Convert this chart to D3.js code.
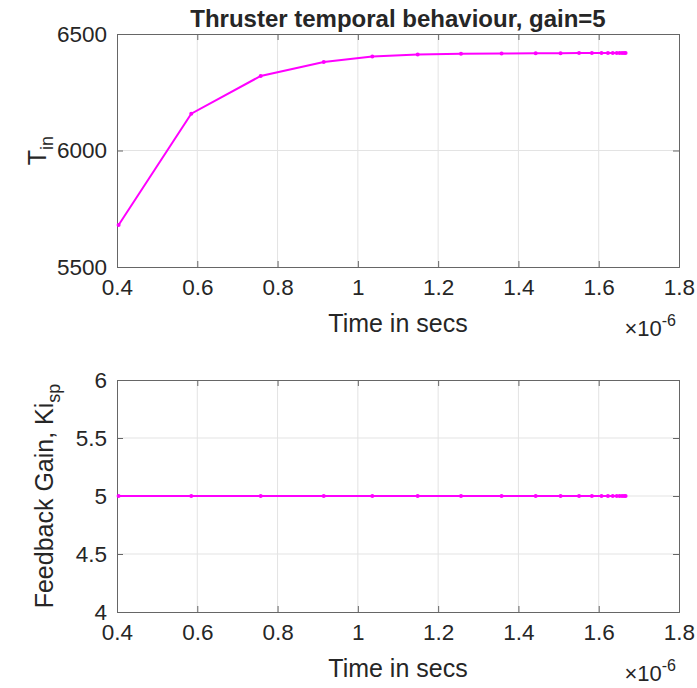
<!DOCTYPE html>
<html>
<head>
<meta charset="utf-8">
<script src="https://cdn.jsdelivr.net/npm/d3@7"></script>
<style>
  body { margin: 0; background: #fff; }
  text { font-family: "Liberation Sans", Arial, sans-serif; fill: #262626; }
</style>
</head>
<body>
<svg id="chart" width="697" height="688"></svg>
<script>
// time samples, in units of 1e-6 s
let timeVals = [0.404, 0.585, 0.758, 0.915, 1.036, 1.149, 1.257, 1.358, 1.443, 1.505,
    1.551, 1.583, 1.607, 1.623, 1.635, 1.645, 1.652, 1.658, 1.663, 1.667]
let thrustVals = [5680, 6158, 6320, 6380, 6403, 6412, 6415, 6416, 6417, 6417,
    6418, 6418, 6418, 6418, 6418, 6418, 6418, 6418, 6418, 6418]
let gainVals = [5, 5, 5, 5, 5, 5, 5, 5, 5, 5, 5, 5, 5, 5, 5, 5, 5, 5, 5, 5]

let xTicks = [0.4, 0.6, 0.8, 1, 1.2, 1.4, 1.6, 1.8]
let thrustTicks = [5500, 6000, 6500]
let gainTicks = [4, 4.5, 5, 5.5, 6]

const svg = d3.select("#chart")
const left = 117, right = 679
const axisCol = "#666"
const gridCol = "#e3e3e3"
const lineCol = "#ff00ff"

const x = d3.scaleLinear().domain([0.4, 1.8]).range([left, right])

function draw_panel(top, bottom, yDomain, yTicks, yVals, yLabelFn, title) {
    let y = d3.scaleLinear().domain(yDomain).range([bottom, top])
    let g = svg.append("g")

    // grid
    g.selectAll(".vgrid").data(xTicks.slice(1, -1)).join("line")
        .attr("x1", d => x(d)).attr("x2", d => x(d))
        .attr("y1", top).attr("y2", bottom)
        .attr("stroke", gridCol).attr("stroke-width", 1)
    g.selectAll(".hgrid").data(yTicks.slice(1, -1)).join("line")
        .attr("class", "hgrid")
        .attr("x1", left).attr("x2", right)
        .attr("y1", d => y(d)).attr("y2", d => y(d))
        .attr("stroke", gridCol).attr("stroke-width", 1)

    // axes (ticks inside)
    g.append("g").attr("transform", "translate(0," + bottom + ")")
        .call(d3.axisBottom(x).tickValues(xTicks).tickSize(-6).tickPadding(11).tickFormat(d3.format("~g")))
        .call(a => a.select(".domain").attr("stroke", axisCol))
        .call(a => a.selectAll("line").attr("stroke", axisCol))
        .call(a => a.selectAll("text").style("font-size", "22.5px").attr("fill", "#262626").attr("dy", "0.75em"))
    g.append("g").attr("transform", "translate(0," + top + ")")
        .call(d3.axisTop(x).tickValues(xTicks).tickSize(-6).tickFormat(""))
        .call(a => a.select(".domain").attr("stroke", axisCol))
        .call(a => a.selectAll("line").attr("stroke", axisCol))
    g.append("g").attr("transform", "translate(" + left + ",0)")
        .call(d3.axisLeft(y).tickValues(yTicks).tickSize(-6).tickPadding(10).tickFormat(d3.format("~g")))
        .call(a => a.select(".domain").attr("stroke", axisCol))
        .call(a => a.selectAll("line").attr("stroke", axisCol))
        .call(a => a.selectAll("text").style("font-size", "22.5px").attr("fill", "#262626"))
    g.append("g").attr("transform", "translate(" + right + ",0)")
        .call(d3.axisRight(y).tickValues(yTicks).tickSize(-6).tickFormat(""))
        .call(a => a.select(".domain").attr("stroke", axisCol))
        .call(a => a.selectAll("line").attr("stroke", axisCol))

    // data line + point markers
    let pts = timeVals.map((t, i) => [t, yVals[i]])
    g.append("path").datum(pts)
        .attr("fill", "none").attr("stroke", lineCol).attr("stroke-width", 2)
        .attr("d", d3.line().x(d => x(d[0])).y(d => y(d[1])))
    g.selectAll(".pt").data(pts).join("circle")
        .attr("cx", d => x(d[0])).attr("cy", d => y(d[1]))
        .attr("r", 2).attr("fill", lineCol)

    // x label
    g.append("text").attr("x", (left + right) / 2).attr("y", bottom + 65)
        .attr("text-anchor", "middle").style("font-size", "25px").text("Time in secs")

    // exponent
    let ex = g.append("text").attr("x", right - 3).attr("y", bottom + 69)
        .attr("text-anchor", "end").style("font-size", "22px")
    ex.append("tspan").text("\u00d710")
    ex.append("tspan").attr("dy", -10).style("font-size", "16px").text("-6")

    // y label
    yLabelFn(g, (top + bottom) / 2)

    if (title) {
        g.append("text").attr("x", (left + right) / 2).attr("y", top - 7)
            .attr("text-anchor", "middle").style("font-size", "24px").style("font-weight", "bold")
            .attr("fill", "#000").text(title)
    }
}

draw_panel(34, 267, [5500, 6500], thrustTicks, thrustVals, (g, cy) => {
    let t = g.append("text").attr("transform", "translate(46," + cy + ") rotate(-90)")
        .attr("text-anchor", "middle").style("font-size", "25px")
    t.append("tspan").text("T")
    t.append("tspan").attr("dy", 7).style("font-size", "18px").text("in")
}, "Thruster temporal behaviour, gain=5")

draw_panel(380, 612, [4, 6], gainTicks, gainVals, (g, cy) => {
    let t = g.append("text").attr("transform", "translate(53," + cy + ") rotate(-90)")
        .attr("text-anchor", "middle").style("font-size", "25px")
    t.append("tspan").text("Feedback Gain, Ki")
    t.append("tspan").attr("dy", 7).style("font-size", "18px").text("sp")
}, null)
</script>
</body>
</html>
